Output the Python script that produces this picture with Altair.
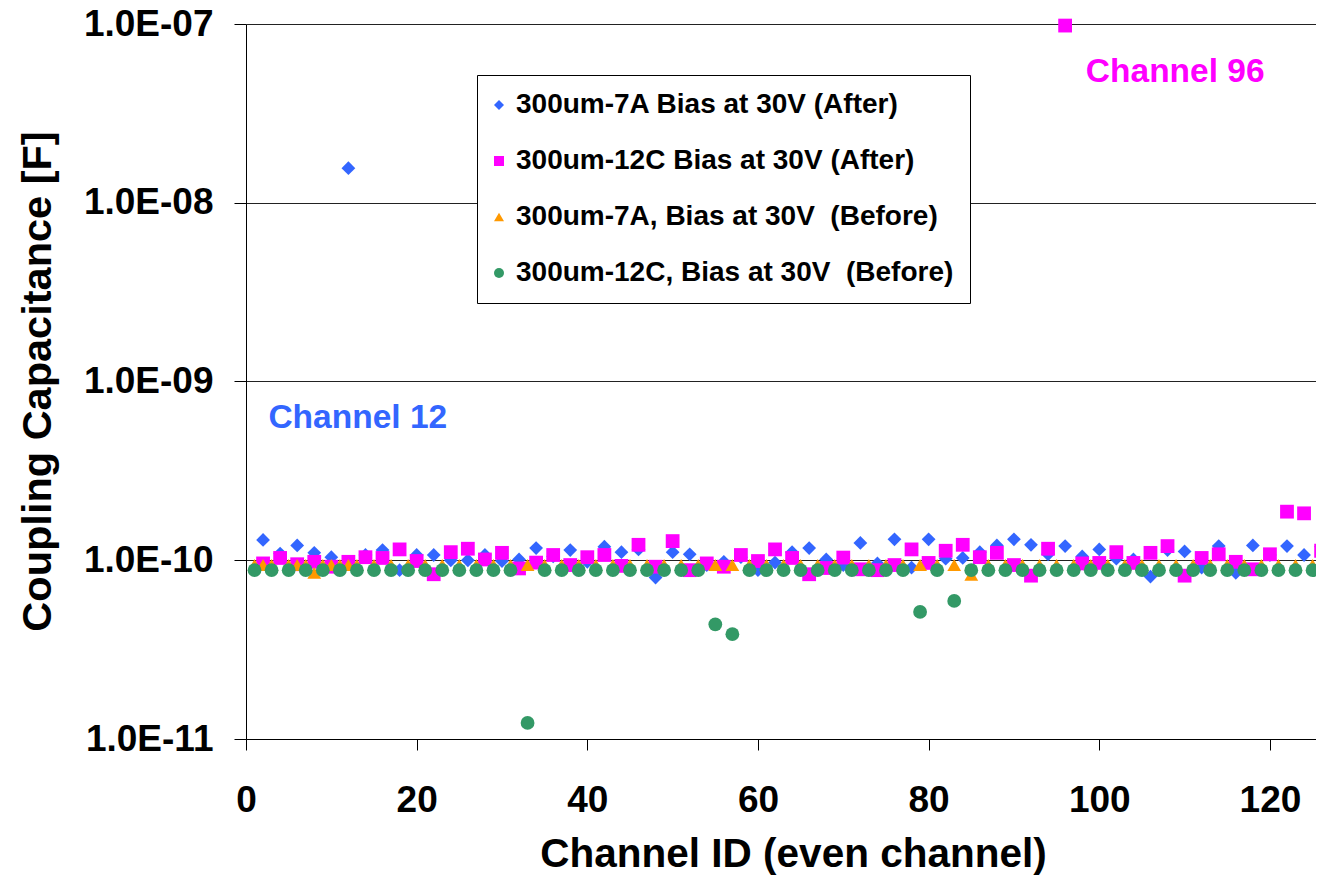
import altair as alt
import pandas as pd

# ---------------- data ----------------
series_names = [
    "300um-7A Bias at 30V (After)",
    "300um-12C Bias at 30V (After)",
    "300um-7A, Bias at 30V\u00a0 (Before)",
    "300um-12C, Bias at 30V\u00a0 (Before)",
]
series_colors = ["#3366FF", "#FF00FF", "#FF9900", "#339966"]
series_shapes = ["diamond", "square", "triangle-up", "circle"]

even_channels = list(range(2, 127, 2))   # 2..126
odd_channels = list(range(1, 126, 2))    # 1..125

# values in units of 1e-10 F
blue_after = [
    1.30, 1.09, 1.21, 1.10, 1.04, 156.0, 1.07, 1.14, 0.88, 1.07,
    1.07, 1.00, 1.00, 1.07, 0.99, 1.01, 1.17, 1.05, 1.14, 0.98,
    1.19, 1.11, 1.15, 0.80, 1.11, 1.08, 0.94, 0.98, 1.04, 0.88,
    0.97, 1.11, 1.17, 1.01, 0.94, 1.25, 0.96, 1.31, 0.91, 1.31,
    1.02, 1.03, 1.11, 1.21, 1.31, 1.22, 1.08, 1.20, 1.05, 1.15,
    1.02, 1.01, 0.81, 1.14, 1.12, 0.91, 1.20, 0.85, 1.21, 1.07,
    1.20, 1.07, 1.19,
]
magenta_after = [
    0.96, 1.03, 0.95, 0.98, 0.92, 0.98, 1.04, 1.03, 1.15, 0.99,
    0.835, 1.11, 1.16, 1.01, 1.10, 0.90, 0.97, 1.07, 0.94, 1.04,
    1.07, 0.93, 1.22, 0.92, 1.28, 0.88, 0.96, 0.92, 1.07, 0.99,
    1.15, 1.03, 0.835, 0.905, 1.035, 0.89, 0.88, 0.94, 1.15, 0.966,
    1.13, 1.22, 1.04, 1.10, 0.94, 0.82, 1.16, 980.0, 0.96, 0.966,
    1.11, 0.966, 1.10, 1.20, 0.82, 1.03, 1.08, 0.98, 0.89, 1.08,
    1.87, 1.83, 1.13,
]
orange_before = [
    0.94, 0.94, 0.94, 0.94, 0.94, 0.94, 0.94, 0.94, 0.94, 0.94,
    0.94, 0.94, 0.94, 0.94, 0.94, 0.94, 0.94, 0.94, 0.94, 0.94,
    0.94, 0.94, 0.94, 0.94, 0.94, 0.94, 0.94, 0.94, 0.94, 0.94,
    0.94, 0.94, 0.94, 0.94, 0.94, 0.94, 0.94, 0.94, 0.94, 0.94,
    0.94, 0.94, 0.83, 0.94, 0.94, 0.94, 0.94, 0.94, 0.94, 0.94,
    0.94, 0.94, 0.94, 0.94, 0.94, 0.94, 0.94, 0.94, 0.94, 0.94,
    0.94, 0.94, 0.94,
]
orange_extra_channels = [2, 6, 8, 10, 12]
orange_extra_values = [0.94, 0.94, 0.85, 0.94, 0.94]
green_before = [
    0.88, 0.88, 0.88, 0.88, 0.88, 0.88, 0.88, 0.88, 0.88, 0.88,
    0.88, 0.88, 0.88, 0.88, 0.88, 0.88, 0.123, 0.88, 0.88, 0.88,
    0.88, 0.88, 0.88, 0.88, 0.88, 0.88, 0.88, 0.438, 0.386, 0.88,
    0.88, 0.88, 0.88, 0.88, 0.88, 0.88, 0.88, 0.88, 0.88, 0.514,
    0.88, 0.592, 0.88, 0.88, 0.88, 0.88, 0.88, 0.88, 0.88, 0.88,
    0.88, 0.88, 0.88, 0.88, 0.88, 0.88, 0.88, 0.88, 0.88, 0.88,
    0.88, 0.88, 0.88,
]

x_ticks = [0, 20, 40, 60, 80, 100, 120]
y_ticks = [1e-11, 1e-10, 1e-9, 1e-8, 1e-7]

ann_text = ["Channel 12", "Channel 96"]
ann_x = [13.1, 108.9]
ann_y = [6.25e-10, 5.4e-8]
ann_color = ["#3366FF", "#FF00FF"]

# ---------------- table ----------------
rows = []
for ch, v in zip(even_channels, blue_after):
    rows.append({"ch": ch, "cap": v * 1e-10, "series": series_names[0]})
for ch, v in zip(even_channels, magenta_after):
    rows.append({"ch": ch, "cap": v * 1e-10, "series": series_names[1]})
for ch, v in zip(odd_channels, orange_before):
    rows.append({"ch": ch, "cap": v * 1e-10, "series": series_names[2]})
for ch, v in zip(orange_extra_channels, orange_extra_values):
    rows.append({"ch": ch, "cap": v * 1e-10, "series": series_names[2]})
for ch, v in zip(odd_channels, green_before):
    rows.append({"ch": ch, "cap": v * 1e-10, "series": series_names[3]})
df = pd.DataFrame(rows)
df["order"] = df["series"].map({s: i for i, s in enumerate(series_names)})

ann = pd.DataFrame({"text": ann_text, "ch": ann_x, "cap": ann_y, "color": ann_color})

FONT = "Liberation Sans"

x_scale = alt.Scale(domain=[0, 125.4], nice=False, zero=False)
y_scale = alt.Scale(type="log", domain=[1e-11, 1e-7], nice=False)

legend = alt.Legend(
    title=None, orient="none", legendX=231, legendY=51,
    strokeColor="black", fillColor="white", padding=16,
    labelFont=FONT, labelFontSize=28, labelFontWeight="bold", labelColor="black",
    labelLimit=800, labelOffset=3, rowPadding=28, symbolOffset=-8,
    symbolSize=100, symbolStrokeWidth=0, symbolOpacity=1,
)

points = alt.Chart(df).mark_point(filled=True, size=190, opacity=1, strokeWidth=0).encode(
    x=alt.X("ch:Q", scale=x_scale,
            axis=alt.Axis(values=x_ticks, title="Channel ID (even channel)", grid=False,
                          labelFont=FONT, labelFontSize=37, labelFontWeight="bold", labelColor="black",
                          labelBaseline="alphabetic", labelPadding=61, labelFlush=False,
                          tickSize=11, tickColor="black", domainColor="black",
                          titleFont=FONT, titleFontSize=40.5, titleFontWeight="bold", titleColor="black",
                          titleX=547, titleY=127, titleBaseline="alphabetic", titleAlign="center")),
    y=alt.Y("cap:Q", scale=y_scale,
            axis=alt.Axis(values=y_ticks, title="Coupling Capacitance [F]", grid=True,
                          gridColor="#222222", gridWidth=1, gridOpacity=1,
                          labelExpr="'1.0E-' + (round(-log(datum.value)/LN10) < 10 ? '0' : '') + round(-log(datum.value)/LN10)",
                          labelFont=FONT, labelFontSize=37, labelFontWeight="bold", labelColor="black",
                          labelBaseline="middle", labelAlign="right", labelPadding=21,
                          tickSize=12, tickColor="black", domainColor="black",
                          titleFont=FONT, titleFontSize=41.5, titleFontWeight="bold", titleColor="black",
                          titleX=-196, titleY=357, titleBaseline="alphabetic", titleAlign="center",
                          titleAngle=270)),
    color=alt.Color("series:N", scale=alt.Scale(domain=series_names, range=series_colors), legend=legend),
    shape=alt.Shape("series:N", scale=alt.Scale(domain=series_names, range=series_shapes), legend=legend),
    order=alt.Order("order:Q"),
)

labels = alt.Chart(ann).mark_text(font=FONT, fontSize=33.5, fontWeight="bold", align="center", baseline="middle").encode(
    x=alt.X("ch:Q", scale=x_scale),
    y=alt.Y("cap:Q", scale=y_scale),
    text="text:N",
    color=alt.Color("color:N", scale=None),
)

chart = alt.layer(points, labels).properties(
    width=1070, height=715,
    autosize=alt.AutoSizeParams(type="none"),
    padding={"left": 238, "top": 16, "right": 0, "bottom": 136},
).configure_view(stroke=None).configure_axis(domainWidth=1, tickWidth=1)

chart.save("out.html", embed_options={"renderer": "svg", "actions": False})
